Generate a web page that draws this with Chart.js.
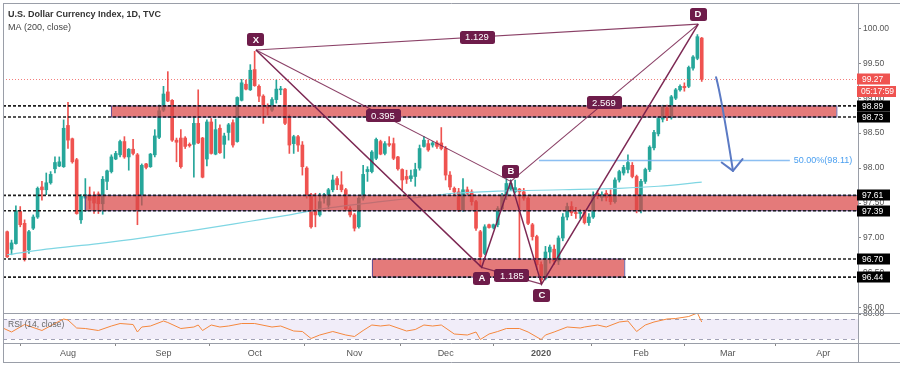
<!DOCTYPE html>
<html><head><meta charset="utf-8">
<script src="https://cdn.jsdelivr.net/npm/chart.js@4.4.1/dist/chart.umd.min.js"></script>
<style>html,body{margin:0;padding:0;background:#fff;}canvas{display:block;}</style>
</head><body>
<canvas id="c" width="900" height="366"></canvas>
<script>
// ---- daily bars (index 0 = first visible trading day) ----
const opens = [
97.09,96.84,96.92,97.38,97.21,96.83,97.14,97.30,97.73,97.69,
97.79,97.99,98.03,98.02,98.61,98.42,98.12,97.26,97.57,97.61,
97.60,97.63,97.49,97.81,97.95,98.13,98.19,98.38,98.16,98.27,
98.19,97.61,98.06,98.02,98.19,98.44,98.83,99.09,98.97,98.40,
98.43,98.43,98.34,98.34,98.64,98.43,98.13,98.66,98.20,98.57,
98.34,98.51,98.65,98.38,98.97,99.20,99.12,99.41,99.17,99.03,
98.89,98.83,98.98,99.12,99.13,98.74,98.35,98.45,98.33,98.00,
97.62,97.38,97.33,97.57,97.47,97.69,97.85,97.76,97.69,97.42,
97.33,97.16,97.57,97.95,97.95,98.14,98.38,98.21,98.35,98.35,
98.16,97.98,97.88,97.85,97.88,98.00,98.31,98.35,98.33,98.36,
98.36,98.28,97.90,97.71,97.66,97.40,97.69,97.66,97.52,97.09,
96.78,97.19,97.15,97.19,97.42,97.60,97.70,97.66,97.70,97.66,
97.57,97.19,97.02,96.62,96.42,96.80,96.84,96.67,97.00,97.30,
97.45,97.36,97.35,97.37,97.22,97.30,97.64,97.58,97.64,97.62,
97.52,97.83,97.93,97.98,98.04,97.88,97.39,97.81,97.98,98.29,
98.49,98.70,98.86,98.72,99.00,99.12,99.17,99.17,99.43,99.57,
99.86];
const highs = [
97.10,96.97,97.46,97.45,97.26,97.11,97.33,97.73,97.81,97.93,
97.95,98.16,98.16,98.69,98.94,98.43,98.14,97.62,97.85,97.73,
97.66,97.66,97.88,97.97,98.19,98.24,98.40,98.45,98.28,98.41,
98.21,98.06,98.07,98.21,98.55,98.90,99.17,99.38,98.98,98.43,
98.55,98.45,98.36,98.74,99.12,98.44,98.69,98.71,98.70,98.62,
98.50,98.64,98.69,99.02,99.27,99.26,99.48,99.67,99.19,99.05,
98.92,99.01,99.26,99.17,99.14,98.76,98.47,98.47,98.38,98.02,
97.64,97.64,97.64,97.64,97.71,97.90,97.88,97.95,97.71,97.45,
97.35,97.59,98.04,98.02,98.25,98.43,98.40,98.38,98.45,98.43,
98.17,97.99,97.97,97.97,98.07,98.33,98.45,98.40,98.38,98.39,
98.58,98.31,97.95,97.73,97.71,97.85,97.73,97.69,97.54,97.11,
97.19,97.20,97.20,97.45,97.64,97.85,97.83,97.83,97.71,97.71,
97.59,97.21,97.04,96.66,96.88,96.90,96.90,97.03,97.35,97.50,
97.52,97.44,97.41,97.40,97.35,97.66,97.68,97.66,97.68,97.69,
97.86,97.97,98.04,98.19,98.08,97.90,97.84,98.00,98.32,98.54,
98.73,98.90,98.90,99.04,99.14,99.19,99.22,99.46,99.61,99.91,
99.87];
const lows = [
96.72,96.76,96.91,97.16,96.67,96.78,97.12,97.28,97.54,97.62,
97.77,97.93,98.02,98.01,98.28,98.07,97.34,97.21,97.38,97.42,
97.35,97.35,97.34,97.69,97.93,98.12,98.16,98.14,97.97,98.19,
97.19,97.47,97.99,98.01,98.16,98.42,98.81,98.95,98.38,98.09,
98.00,98.28,98.30,97.87,98.35,97.86,98.03,98.20,98.19,98.21,
98.14,98.40,98.30,98.37,98.96,99.12,99.11,99.17,98.95,98.64,
98.76,98.81,98.93,99.05,98.62,98.21,98.21,98.24,97.90,97.57,
97.14,97.16,97.31,97.50,97.42,97.66,97.69,97.66,97.40,97.30,
97.10,97.14,97.54,97.81,97.93,98.12,98.19,98.19,98.31,98.12,
97.97,97.69,97.78,97.81,97.74,97.97,98.30,98.24,98.30,98.28,
98.26,97.83,97.69,97.62,97.38,97.38,97.62,97.47,97.11,96.59,
96.76,97.14,97.13,97.16,97.40,97.55,97.68,97.64,96.69,97.54,
97.19,96.97,96.55,96.35,96.40,96.64,96.62,96.62,96.96,97.26,
97.32,97.28,97.28,97.20,97.18,97.28,97.56,97.53,97.53,97.48,
97.50,97.80,97.90,97.93,97.86,97.36,97.36,97.78,97.95,98.26,
98.46,98.66,98.68,98.70,98.98,99.10,99.10,99.15,99.40,99.55,
99.24];
const closes = [
96.73,96.93,97.39,97.19,96.69,97.09,97.30,97.71,97.69,97.79,
97.91,98.08,98.09,98.57,98.40,98.09,97.35,97.60,97.62,97.54,
97.50,97.49,97.84,97.96,98.16,98.21,98.38,98.16,98.27,98.21,
97.40,98.04,98.01,98.20,98.46,98.82,99.06,98.96,98.40,98.37,
98.02,98.31,98.32,98.64,98.36,97.87,98.66,98.21,98.55,98.22,
98.46,98.62,98.33,99.01,99.22,99.13,99.40,99.18,99.03,98.90,
98.86,98.98,99.13,99.13,98.64,98.33,98.45,98.33,98.02,97.62,
97.16,97.33,97.52,97.62,97.69,97.83,97.76,97.69,97.42,97.33,
97.14,97.57,97.91,97.98,98.23,98.41,98.20,98.35,98.33,98.14,
97.99,97.83,97.84,97.89,97.98,98.28,98.40,98.26,98.36,98.31,
98.28,97.90,97.73,97.66,97.40,97.69,97.64,97.52,97.14,96.73,
97.16,97.15,97.19,97.42,97.60,97.78,97.78,97.72,97.66,97.57,
97.21,97.02,96.62,96.40,96.80,96.87,96.67,97.00,97.30,97.45,
97.36,97.35,97.37,97.22,97.30,97.62,97.60,97.62,97.58,97.52,
97.83,97.95,98.01,98.08,97.88,97.39,97.81,97.98,98.30,98.51,
98.71,98.87,98.72,99.02,99.12,99.17,99.15,99.44,99.59,99.88,
99.27];

// ---- MA(200) read at sample bars ----
const maIdx = [0,9,21,32,44,56,64,74,86,96,103,113,128,141,150,160];
const maVal = [96.76,96.84,96.92,97.01,97.12,97.24,97.32,97.43,97.52,97.59,97.64,97.67,97.69,97.71,97.74,97.80];

// ---- RSI(14) read at sample bars ----
const rsiIdx = [-1,1,4,8,11,13,14,16,18,21,24,26,29,30,31,33,36,37,40,43,44,45,47,49,51,54,57,61,63,66,68,70,72,75,78,80,82,84,86,88,92,94,96,98,100,103,106,108,109,111,113,115,118,120,123,124,126,129,132,133,136,138,141,143,145,147,149,152,154,157,159,160];
const rsiVal = [52,44,59,47,61,70,68,52,51,47,56,61,59,44,54,56,66,63,51,54,58,47,58,54,56,61,61,54,56,46,45,31,38,45,38,35,47,58,56,58,46,49,58,56,58,40,38,44,29,40,45,51,51,44,29,38,44,54,52,54,58,54,64,66,45,58,64,70,71,75,82,64];
const rsiBand = [30, 70];

// ---- axes ----
const monthTickIdx = [14,36,57,80,101,123,146,166,188];
const monthTickLabels = ['Aug','Sep','Oct','Nov','Dec','2020','Feb','Mar','Apr'];
const priceTicks = [96,96.5,97,97.5,98,98.5,99,99.5,100];
const rsiTicks = [80];

// ---- drawings ----
const levels = [98.89, 98.73, 97.61, 97.39, 96.70, 96.44];
const zoneStart = [23.9, 17.9, 84.0];
const zoneEnd   = [191.0, 196.0, 142.1];
const zoneTop   = [98.89, 97.61, 96.70];
const zoneBot   = [98.73, 97.39, 96.44];
const patNames = ['X','A','B','C','D'];
const patIdx   = [57.3, 109.3, 116.0, 123.1, 159.2];
const patPrice = [99.69, 96.58, 97.81, 96.34, 100.06];
const ratioText = ['1.129','0.395','1.185','2.569'];
const ratioFrom = [0,0,1,2];
const ratioTo   = [4,2,3,4];
const lastPrice = 99.27;
const countdown = '05:17:59';
const fibLevel = 98.11, fibStart = 122.5, fibEnd = 180.3, fibText = '50.00%(98.11)';
const arrowIdx = [163.3, 164.5, 167.2];   // start, control, end
const arrowVal = [99.30, 99.03, 97.96];
const arrowWingIdx = [164.6, 169.4];
const arrowWingVal = [98.08, 98.13];
const title1 = 'U.S. Dollar Currency Index, 1D, TVC';
const title2 = 'MA (200, close)';
const rsiTitle = 'RSI (14, close)';

const UP = '#26a69a', DOWN = '#ef5350';
const FONT = '"Liberation Sans", Arial, sans-serif';
const candleColors = opens.map((o,i)=> closes[i] >= o ? UP : DOWN);
const noPad = s => { s.paddingTop = 0; s.paddingBottom = 0; s.paddingLeft = 0; s.paddingRight = 0; };

const overlay = {
  id: 'overlay',
  beforeDatasetsDraw(chart) {
    const {ctx, chartArea: ca, scales: {rsi}} = chart;
    const y70 = rsi.getPixelForValue(rsiBand[1]), y30 = rsi.getPixelForValue(rsiBand[0]);
    ctx.save();
    ctx.fillStyle = 'rgba(149,117,205,0.13)';
    ctx.fillRect(ca.left, y70, ca.right - ca.left, y30 - y70);
    ctx.setLineDash([4,4]); ctx.strokeStyle = 'rgba(140,140,165,0.8)'; ctx.lineWidth = 1;
    [y70, y30].forEach(yy => { ctx.beginPath(); ctx.moveTo(ca.left, Math.round(yy)+0.5); ctx.lineTo(ca.right, Math.round(yy)+0.5); ctx.stroke(); });
    ctx.restore();
  },
  afterDatasetsDraw(chart) {
    const {ctx, chartArea: ca, scales: {x, y}} = chart;
    const px = v => x.getPixelForValue(v), py = v => y.getPixelForValue(v);
    ctx.save();
    ctx.beginPath(); ctx.rect(ca.left, y.top, ca.right - ca.left, y.bottom - y.top); ctx.clip();
    // zones
    for (let k = 0; k < zoneStart.length; k++) {
      const x0 = px(zoneStart[k]), x1 = px(zoneEnd[k]), y0 = py(zoneTop[k]), y1 = py(zoneBot[k]);
      ctx.fillStyle = 'rgba(218,70,70,0.72)';
      ctx.fillRect(x0, y0, x1 - x0, y1 - y0);
      ctx.strokeStyle = 'rgba(90,75,150,0.9)'; ctx.lineWidth = 1;
      ctx.strokeRect(Math.round(x0)+0.5, y0, x1 - x0, y1 - y0);
    }
    // dashed levels
    ctx.setLineDash([3,2]); ctx.lineWidth = 1.6; ctx.strokeStyle = '#1e1e1e';
    levels.forEach(v => { const yy = py(v); ctx.beginPath(); ctx.moveTo(ca.left, yy); ctx.lineTo(ca.right, yy); ctx.stroke(); });
    // last price dotted
    ctx.setLineDash([1,2]); ctx.lineWidth = 1; ctx.strokeStyle = 'rgba(239,83,80,0.75)';
    let yl = Math.round(py(lastPrice)) + 0.5;
    ctx.beginPath(); ctx.moveTo(ca.left, yl); ctx.lineTo(ca.right, yl); ctx.stroke();
    ctx.setLineDash([]);
    // fib 50%
    const yf = py(fibLevel);
    ctx.strokeStyle = 'rgba(120,180,240,0.85)'; ctx.lineWidth = 1.5;
    ctx.beginPath(); ctx.moveTo(px(fibStart), yf); ctx.lineTo(px(fibEnd), yf); ctx.stroke();
    ctx.fillStyle = '#4a9ff0'; ctx.font = '9px ' + FONT; ctx.textBaseline = 'middle'; ctx.textAlign = 'left';
    ctx.fillText(fibText, px(fibEnd) + 4, yf + 0.5);
    // pattern lines
    const P = patIdx.map((v,k) => [px(v), py(patPrice[k])]);
    ctx.strokeStyle = 'rgba(118,30,75,0.95)'; ctx.lineWidth = 1.5;
    ctx.beginPath(); ctx.moveTo(P[0][0], P[0][1]); for (let k = 1; k < 5; k++) ctx.lineTo(P[k][0], P[k][1]); ctx.stroke();
    ctx.lineWidth = 1.1; ctx.strokeStyle = 'rgba(118,30,75,0.85)';
    for (let k = 0; k < ratioFrom.length; k++) {
      const a = P[ratioFrom[k]], b = P[ratioTo[k]];
      ctx.beginPath(); ctx.moveTo(a[0], a[1]); ctx.lineTo(b[0], b[1]); ctx.stroke();
    }
    // label boxes
    const box = (cx, cy, w, h, txt, bold) => {
      ctx.fillStyle = '#6e1c4a';
      ctx.beginPath(); ctx.roundRect(Math.round(cx - w/2), Math.round(cy - h/2), w, h, 2.5); ctx.fill();
      ctx.fillStyle = '#fff'; ctx.textAlign = 'center'; ctx.textBaseline = 'middle';
      ctx.font = (bold ? 'bold ' : '') + '9.5px ' + FONT;
      ctx.fillText(txt, Math.round(cx), Math.round(cy) + 0.5);
    };
    for (let k = 0; k < ratioFrom.length; k++) {
      const a = P[ratioFrom[k]], b = P[ratioTo[k]];
      box((a[0]+b[0])/2, (a[1]+b[1])/2, 35, 13, ratioText[k], false);
    }
    P.forEach((p, k) => {
      const above = (k % 2 === 0);
      box(p[0], above ? p[1] - 10 : p[1] + 11, 17, 13, patNames[k], true);
    });
    // arrow
    ctx.strokeStyle = '#5b7ac4'; ctx.lineWidth = 2; ctx.lineCap = 'round'; ctx.lineJoin = 'round';
    const A0 = [px(arrowIdx[0]), py(arrowVal[0])], A1 = [px(arrowIdx[1]), py(arrowVal[1])], A2 = [px(arrowIdx[2]), py(arrowVal[2])];
    ctx.beginPath(); ctx.moveTo(A0[0], A0[1]); ctx.quadraticCurveTo(A1[0], A1[1], A2[0], A2[1]); ctx.stroke();
    ctx.beginPath(); ctx.moveTo(px(arrowWingIdx[0]), py(arrowWingVal[0])); ctx.lineTo(A2[0], A2[1]); ctx.lineTo(px(arrowWingIdx[1]), py(arrowWingVal[1])); ctx.stroke();
    ctx.restore();

    // frame
    ctx.save();
    ctx.strokeStyle = '#9a9ea8'; ctx.lineWidth = 1;
    const W = chart.width;
    const hl = (yy, x0, x1) => { ctx.beginPath(); ctx.moveTo(x0, yy); ctx.lineTo(x1, yy); ctx.stroke(); };
    const vl = (xx, y0, y1) => { ctx.beginPath(); ctx.moveTo(xx, y0); ctx.lineTo(xx, y1); ctx.stroke(); };
    const xb = chart.scales.x;
    vl(ca.left + 0.5, ca.top, xb.bottom);
    vl(Math.round(ca.right) + 0.5, ca.top, xb.bottom);
    hl(ca.top + 0.5, ca.left, W);
    hl(Math.round(y.bottom) + 0.5, ca.left, W);
    hl(Math.round(ca.bottom) + 0.5, ca.left, W);
    hl(Math.round(xb.bottom) + 0.5, ca.left, W);

    // axis tags
    const tag = (v, txt, col, w) => {
      const cy = Math.round(py(v));
      ctx.fillStyle = col; ctx.fillRect(ca.right - 1, cy - 5.5, w, 11);
      ctx.fillStyle = '#fff'; ctx.font = '8.5px ' + FONT; ctx.textAlign = 'left'; ctx.textBaseline = 'middle';
      ctx.fillText(txt, ca.right + 4, cy + 0.5);
      return cy;
    };
    levels.forEach(v => tag(v, v.toFixed(2), '#000', 33));
    const cyl = tag(lastPrice, lastPrice.toFixed(2), '#ef5350', 33);
    ctx.fillStyle = '#ef5350'; ctx.fillRect(ca.right - 1, cyl + 7, 39, 11);
    ctx.fillStyle = '#fff'; ctx.fillText(countdown, ca.right + 3, cyl + 13);

    // titles
    ctx.fillStyle = '#333'; ctx.textAlign = 'left'; ctx.textBaseline = 'middle';
    ctx.font = 'bold 9px ' + FONT; ctx.fillText(title1, 8, 15);
    ctx.font = '9px ' + FONT; ctx.fillStyle = '#444'; ctx.fillText(title2, 8, 28);
    ctx.fillStyle = '#666'; ctx.font = '8.5px ' + FONT; ctx.fillText(rsiTitle, 8, 325);
    ctx.restore();
  }
};

new Chart(document.getElementById('c'), {
  type: 'bar',
  data: {
    datasets: [
      { type:'bar', data: opens.map((o,i)=>({x:i, y:[lows[i], highs[i]]})), backgroundColor: candleColors, barThickness: 1, grouped: false, yAxisID: 'y', order: 4 },
      { type:'bar', data: opens.map((o,i)=>({x:i, y:[o, closes[i]]})), backgroundColor: candleColors, barThickness: 3, minBarLength: 1, grouped: false, yAxisID: 'y', order: 3 },
      { type:'line', data: maIdx.map((v,k)=>({x:v, y:maVal[k]})), borderColor: '#7fd6e3', borderWidth: 1.2, pointRadius: 0, cubicInterpolationMode: 'monotone', yAxisID: 'y', order: 2 },
      { type:'line', data: rsiIdx.map((v,k)=>({x:v, y:rsiVal[k]})), borderColor: '#f5873d', borderWidth: 1, pointRadius: 0, yAxisID: 'rsi', order: 1 }
    ]
  },
  options: {
    responsive: false, animation: false, devicePixelRatio: 1,
    layout: { padding: { left: 3, top: 3, right: 0, bottom: 4 } },
    plugins: { legend: { display: false }, tooltip: { enabled: false } },
    scales: {
      x: {
        type: 'linear', min: -0.97, max: 196, offset: false, position: 'bottom',
        afterBuildTicks: s => { s.ticks = monthTickIdx.map(v => ({ value: v })); },
        afterFit: s => { s.height = 19; noPad(s); },
        ticks: { autoSkip: false, maxRotation: 0, padding: 2, color: '#555',
          font: c => ({ family: FONT, size: 9, weight: (c.tick && c.tick.value === 123) ? 'bold' : 'normal' }),
          callback: v => { const k = monthTickIdx.indexOf(v); return k >= 0 ? monthTickLabels[k] : ''; } },
        grid: { drawOnChartArea: false, drawTicks: true, tickLength: 3, color: '#888' },
        border: { display: false }
      },
      y: {
        type: 'linear', position: 'right', stack: 'p', stackWeight: 310, min: 95.927, max: 100.362,
        afterBuildTicks: s => { s.ticks = priceTicks.map(v => ({ value: v })); },
        afterFit: s => { s.width = 42; noPad(s); },
        ticks: { padding: 2, color: '#555', font: { family: FONT, size: 8.5 }, callback: v => Number(v).toFixed(2) },
        grid: { drawOnChartArea: false, tickLength: 3, color: '#888' },
        border: { display: false }
      },
      rsi: {
        type: 'linear', position: 'right', stack: 'p', stackWeight: 30, min: 22, max: 82,
        afterBuildTicks: s => { s.ticks = rsiTicks.map(v => ({ value: v })); },
        afterFit: s => { s.width = 42; noPad(s); },
        ticks: { padding: 2, color: '#555', font: { family: FONT, size: 8.5 }, callback: v => Number(v).toFixed(2) },
        grid: { drawOnChartArea: false, tickLength: 3, color: '#888' },
        border: { display: false }
      }
    }
  },
  plugins: [overlay]
});
</script>
</body></html>
